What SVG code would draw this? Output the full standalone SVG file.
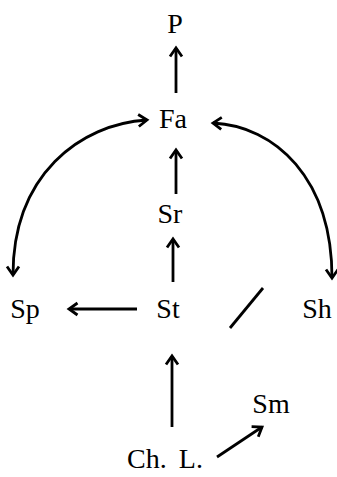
<svg xmlns="http://www.w3.org/2000/svg" width="337" height="477" viewBox="0 0 337 477">
<defs>
<marker id="ah" viewBox="-12 -8 14 16" refX="0" refY="0" markerWidth="14" markerHeight="16" markerUnits="userSpaceOnUse" orient="auto-start-reverse" overflow="visible">
<path d="M-8.5,-6 L0,0 L-8.5,6" fill="none" stroke="#000" stroke-width="2.8" stroke-linejoin="miter"/>
</marker>
</defs>
<style>
.lbl{font-family:"Liberation Serif","Times New Roman",serif;font-size:28px;fill:#000;text-anchor:middle}
.c{fill:none;stroke:#000;stroke-width:2.8}
.a{marker-end:url(#ah)}
.b{marker-start:url(#ah);marker-end:url(#ah)}
</style>
<rect width="337" height="477" fill="#fff"/>
<g id="connectors">
<line class="c a" x1="176" y1="93" x2="176" y2="48"/>
<line class="c a" x1="176" y1="194" x2="176" y2="150"/>
<line class="c a" x1="173" y1="282" x2="173" y2="239"/>
<line class="c a" x1="137" y1="309" x2="69" y2="309"/>
<line class="c a" x1="172" y1="427" x2="172" y2="356"/>
<line class="c a" x1="217" y1="457" x2="262" y2="427"/>
<path class="c b" d="M147,120 C80,124 13,175 13,275"/>
<path class="c b" d="M213,123 C275,126 332,178 332,278"/>
<line class="c" x1="263" y1="288" x2="230" y2="328"/>
</g>
<g id="P"><text class="lbl" x="175" y="33">P</text></g>
<g id="Fa"><text class="lbl" x="173" y="128">Fa</text></g>
<g id="Sr"><text class="lbl" x="170" y="223">Sr</text></g>
<g id="St"><text class="lbl" x="168" y="318">St</text></g>
<g id="Sp"><text class="lbl" x="25" y="318">Sp</text></g>
<g id="Sh"><text class="lbl" x="317" y="318">Sh</text></g>
<g id="Sm"><text class="lbl" x="271" y="413">Sm</text></g>
<g id="ChL"><text class="lbl" x="165" y="468" word-spacing="5">Ch. L.</text></g>
</svg>
